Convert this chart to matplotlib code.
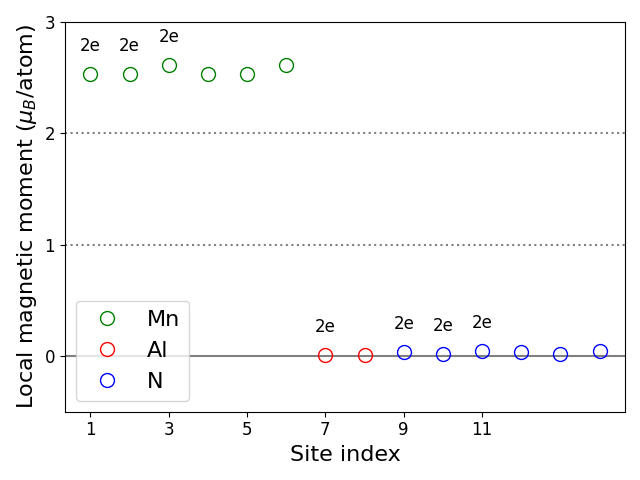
import matplotlib
matplotlib.use("Agg")
import matplotlib.pyplot as plt

mn_sites = [1, 2, 3, 4, 5, 6]
mn_moments = [2.53, 2.53, 2.615, 2.53, 2.53, 2.615]
al_sites = [7, 8]
al_moments = [0.01, 0.01]
n_sites = [9, 10, 11, 12, 13, 14]
n_moments = [0.036, 0.018, 0.045, 0.036, 0.018, 0.045]

label_sites = [1, 2, 3, 7, 9, 10, 11]
label_text = "2e"

all_sites = mn_sites + al_sites + n_sites
all_moments = mn_moments + al_moments + n_moments

fig, ax = plt.subplots(figsize=(6.4, 4.8), dpi=100)

ax.axhline(0, color="gray", lw=1.5)
ax.axhline(1, color="gray", ls=":", lw=1.5)
ax.axhline(2, color="gray", ls=":", lw=1.5)

ax.plot(mn_sites, mn_moments, "o", mfc="none", mec="green", ms=10, label="Mn")
ax.plot(al_sites, al_moments, "o", mfc="none", mec="red", ms=10, label="Al")
ax.plot(n_sites, n_moments, "o", mfc="none", mec="blue", ms=10, label="N")

for s in label_sites:
    m = all_moments[all_sites.index(s)]
    ax.text(s, m + 0.25, label_text, ha="center", va="center", fontsize=12)

ax.set_ylim(-0.5, 3)
ax.set_xticks([1, 3, 5, 7, 9, 11])
ax.set_yticks([0, 1, 2, 3])
ax.tick_params(labelsize=12)
ax.set_xlabel("Site index", fontsize=16)
ax.set_ylabel(r"Local magnetic moment ($\mu_B$/atom)", fontsize=16)
ax.legend(loc="lower left", fontsize=16)

plt.tight_layout()
plt.savefig("out.png")
